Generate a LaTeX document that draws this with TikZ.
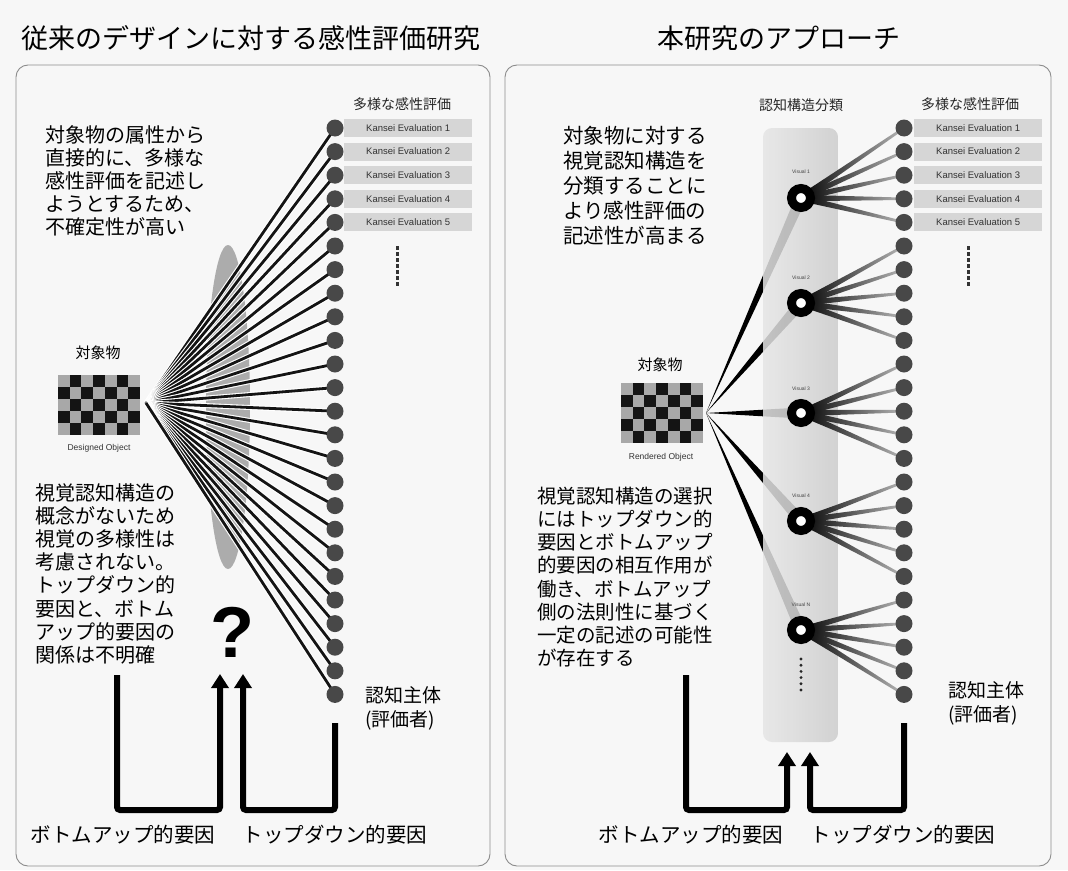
\documentclass[tikz,border=0pt]{standalone}
\usepackage{fontspec}
\newfontfamily\jp{Noto Sans CJK JP}
\newfontfamily\lat{Liberation Sans}
\usetikzlibrary{arrows.meta,calc}
\definecolor{bg}{RGB}{247,247,247}
\definecolor{frameC}{RGB}{140,140,140}
\definecolor{dotC}{RGB}{72,72,72}
\definecolor{boxC}{RGB}{214,214,214}
\definecolor{chkL}{RGB}{168,168,168}
\definecolor{ellC}{RGB}{172,172,172}
\begin{document}
\begin{tikzpicture}[x=1pt,y=-1pt,
  panel/.style={draw=frameC, line width=0.9pt, rounded corners=12pt},
  title/.style={font=\jp\fontsize{27}{30}\selectfont, inner sep=0pt},
  body/.style={font=\jp\fontsize{20}{23.2}\selectfont, align=left, inner sep=0pt, anchor=north west},
  hdr/.style={font=\jp\fontsize{14}{16}\selectfont, inner sep=0pt, text=black!85},
  evdot/.style={circle, fill=dotC, minimum size=17pt, inner sep=0pt},
  evbox/.style={fill=boxC, minimum width=128pt, minimum height=18pt, inner sep=0pt, anchor=west, font=\lat\fontsize{9.5}{11}\selectfont, text=black!80},
  ring/.style={circle, draw=black, line width=9pt, fill=white, minimum size=19pt, inner sep=0pt},
  objbox/.style={fill=chkL, minimum width=82pt, minimum height=60pt, inner sep=0pt, anchor=north west},
  objlbl/.style={font=\jp\fontsize{15}{18}\selectfont, inner sep=0pt},
  objsub/.style={font=\lat\fontsize{8.5}{10}\selectfont, inner sep=0pt, text=black!80},
  subj/.style={font=\jp\fontsize{19}{24.5}\selectfont, align=left, inner sep=0pt, anchor=north west},
  foot/.style={font=\jp\fontsize{20.5}{24}\selectfont, inner sep=0pt},
  flow/.style={line width=6pt, -{Triangle[width=17pt,length=14pt]}, rounded corners=3pt},
  ringlbl/.style={font=\lat\fontsize{5}{6}\selectfont, inner sep=0pt, text=black!75}
]
\fill[bg] (0,0) rectangle (1068,870);
\useasboundingbox (0,0) rectangle (1068,870);

% titles and frames
\node[title] (t1) at (251,38) {従来のデザインに対する感性評価研究};
\node[title] (t2) at (779,38) {本研究のアプローチ};
\draw[panel] (16,65) rectangle (490,866);
\draw[panel] (505,65) rectangle (1051,866);

% ================= LEFT PANEL =================
\node[hdr] (lh) at (402,104) {多様な感性評価};
\fill[ellC] (228,407) ellipse [x radius=22pt, y radius=162pt];
\node[objbox] (LObj) at (58,375) {};
\foreach \c in {0,...,6} {
  \foreach \r in {0,...,4} {
    \pgfmathtruncatemacro\p{mod(\c+\r,2)}
    \ifnum\p=1 \fill[black!92] ({58+11.714*\c},{375+12*\r}) rectangle ++(11.714,12); \fi
  }
}
\coordinate (LO) at (146,403);
\foreach \i in {0,...,24} {
  \coordinate (ld\i) at (335,{128+23.6*\i});
}
\foreach \i in {0,...,24} {
  \draw[white, line width=5pt] (LO) -- (ld\i);
  \draw[black!92, line width=2.8pt] (LO) -- (ld\i);
}
\foreach \i in {0,...,24} {
  \node[evdot] (L\i) at (ld\i) {};
}
\foreach \i in {1,...,5} {
  \node[evbox] (LB\i) at (344,{128+23.6*(\i-1)}) {Kansei Evaluation \i};
}
\foreach \t in {0,...,6} { \fill[black!80] (395.5,{246+6*\t}) rectangle ++(3,3.5); }
\node[objlbl] (LOl) at (98,353) {対象物};
\node[objsub] (LOs) at (99,448) {Designed Object};

\node[body] (LT1) at (45,125) {対象物の属性から\\直接的に、多様な\\感性評価を記述し\\ようとするため、\\不確定性が高い};
\node[body] (LT2) at (35,483) {視覚認知構造の\\概念がないため\\視覚の多様性は\\考慮されない。\\トップダウン的\\要因と、ボトム\\アップ的要因の\\関係は不明確};
\node[font=\lat\bfseries\fontsize{72}{72}\selectfont, inner sep=0pt] (qm) at (232,632) {?};
\node[subj] (LS) at (365,686) {認知主体\\(評価者)};

\coordinate (LBUs) at (117,675);
\coordinate (LBUe) at (220,674);
\coordinate (LTDs) at (335,723);
\coordinate (LTDe) at (243,674);
\draw[flow] (LBUs) -- ++(0,135) -| (LBUe);
\draw[flow] (LTDs) -- ++(0,87) -| (LTDe);
\node[foot] (LF1) at (123,835) {ボトムアップ的要因};
\node[foot] (LF2) at (335,835) {トップダウン的要因};

% ================= RIGHT PANEL =================
\node[hdr] (rh) at (970,104) {多様な感性評価};
\node[hdr] (ch) at (801,105) {認知構造分類};
\node[objbox] (RObj) at (621,383) {};
\foreach \c in {0,...,6} {
  \foreach \r in {0,...,4} {
    \pgfmathtruncatemacro\p{mod(\c+\r,2)}
    \ifnum\p=1 \fill[black!92] ({621+11.714*\c},{383+12*\r}) rectangle ++(11.714,12); \fi
  }
}
\coordinate (RO) at (706,413);
\coordinate (Rc1) at (801,198);
\coordinate (Rc2) at (801,303);
\coordinate (Rc3) at (801,413);
\coordinate (Rc4) at (801,521);
\coordinate (Rc5) at (801,630);
\foreach \i in {0,...,24} {
  \coordinate (rd\i) at (904,{128+23.6*\i});
}
% object to structures
\foreach \k in {1,...,5} {
  \fill[black] (RO) -- ($(Rc\k)!5.5pt!90:(RO)$) -- ($(Rc\k)!5.5pt!-90:(RO)$) -- cycle;
}
% column
\shade[left color=gray!20, middle color=gray!30, right color=gray!40, rounded corners=9pt, opacity=0.85] (763,128) rectangle (838,742);
% structures to evaluations
\foreach \k in {1,...,5} {
  \foreach \j in {0,...,4} {
    \pgfmathtruncatemacro\d{(\k-1)*5+\j}
    \shade[left color=black, right color=gray!55]
      ($(Rc\k)!3.2pt!90:(rd\d)$) -- ($(rd\d)!1.2pt!-90:(Rc\k)$) -- ($(rd\d)!1.2pt!90:(Rc\k)$) -- ($(Rc\k)!3.2pt!-90:(rd\d)$) -- cycle;
  }
}
\node[ring] (R1) at (Rc1) {};
\node[ring] (R2) at (Rc2) {};
\node[ring] (R3) at (Rc3) {};
\node[ring] (R4) at (Rc4) {};
\node[ring] (R5) at (Rc5) {};
\node[ringlbl] (RL1) at (801,172) {Visual 1};
\node[ringlbl] (RL2) at (801,278) {Visual 2};
\node[ringlbl] (RL3) at (801,389) {Visual 3};
\node[ringlbl] (RL4) at (801,496) {Visual 4};
\node[ringlbl] (RL5) at (801,605) {Visual N};
\foreach \t in {0,...,5} { \fill[black!85] (801,{659+6.2*\t}) circle[radius=1.6pt]; }

\foreach \i in {0,...,24} {
  \node[evdot] (RD\i) at (rd\i) {};
}
\foreach \i in {1,...,5} {
  \node[evbox] (RB\i) at (914,{128+23.6*(\i-1)}) {Kansei Evaluation \i};
}
\foreach \t in {0,...,6} { \fill[black!80] (966.5,{246+6*\t}) rectangle ++(3,3.5); }
\node[objlbl] (ROl) at (660,365) {対象物};
\node[objsub] (ROs) at (661,457) {Rendered Object};

\node[body, font=\jp\fontsize{20.5}{25}\selectfont] (RT1) at (563,126) {対象物に対する\\視覚認知構造を\\分類することに\\より感性評価の\\記述性が高まる};
\node[body, font=\jp\fontsize{19.5}{23.1}\selectfont] (RT2) at (537,487) {視覚認知構造の選択\\にはトップダウン的\\要因とボトムアップ\\的要因の相互作用が\\働き、ボトムアップ\\側の法則性に基づく\\一定の記述の可能性\\が存在する};
\node[subj] (RS) at (948,681) {認知主体\\(評価者)};

\coordinate (RBUs) at (686,675);
\coordinate (RBUe) at (787,752);
\coordinate (RTDs) at (904,723);
\coordinate (RTDe) at (810,752);
\draw[flow] (RBUs) -- ++(0,135) -| (RBUe);
\draw[flow] (RTDs) -- ++(0,87) -| (RTDe);
\node[foot] (RF1) at (691,835) {ボトムアップ的要因};
\node[foot] (RF2) at (903,835) {トップダウン的要因};
\end{tikzpicture}
\end{document}
